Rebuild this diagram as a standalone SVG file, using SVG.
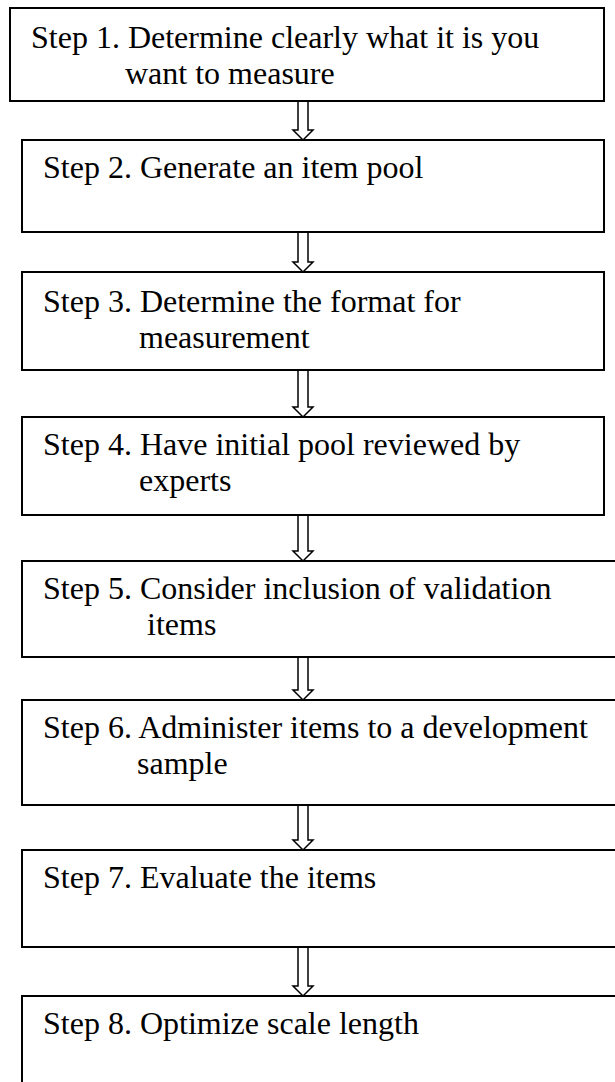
<svg xmlns="http://www.w3.org/2000/svg" width="615" height="1082" viewBox="0 0 615 1082">
<style>
.box{fill:#fff;stroke:#000;stroke-width:2}
.t{font-family:"Liberation Serif","Times New Roman",serif;font-size:32px;fill:#000}
.arr{fill:#fff;stroke:#000;stroke-width:1.5;stroke-linejoin:miter}
</style>
<rect width="615" height="1082" fill="#fff"/>
<g id="connectors">
<polygon class="arr" points="298,101 308,101 308,130 313,130 303,140 293,130 298,130"/>
<polygon class="arr" points="298,232 308,232 308,262 313,262 303,272 293,262 298,262"/>
<polygon class="arr" points="298,370 308,370 308,407 313,407 303,417 293,407 298,407"/>
<polygon class="arr" points="298,515 308,515 308,551 313,551 303,561 293,551 298,551"/>
<polygon class="arr" points="298,657 308,657 308,690 313,690 303,700 293,690 298,690"/>
<polygon class="arr" points="298,805 308,805 308,840 313,840 303,850 293,840 298,840"/>
<polygon class="arr" points="298,947 308,947 308,986 313,986 303,996 293,986 298,986"/>
</g>
<g id="step1">
<rect class="box" x="10" y="8" width="594" height="93"/>
<text class="t" x="31" y="48">Step 1. Determine clearly what it is you</text>
<text class="t" x="125" y="84">want to measure</text>
</g>
<g id="step2">
<rect class="box" x="22" y="140" width="582" height="92"/>
<text class="t" x="43" y="178">Step 2. Generate an item pool</text>
</g>
<g id="step3">
<rect class="box" x="22" y="272" width="582" height="98"/>
<text class="t" x="43" y="312">Step 3. Determine the format for</text>
<text class="t" x="139" y="348">measurement</text>
</g>
<g id="step4">
<rect class="box" x="22" y="417" width="582" height="98"/>
<text class="t" x="43" y="455">Step 4. Have initial pool reviewed by</text>
<text class="t" x="139" y="491">experts</text>
</g>
<g id="step5">
<rect class="box" x="22" y="561" width="600" height="96"/>
<text class="t" x="43" y="599">Step 5. Consider inclusion of validation</text>
<text class="t" x="147" y="635">items</text>
</g>
<g id="step6">
<rect class="box" x="22" y="700" width="600" height="105"/>
<text class="t" x="43" y="738">Step 6. Administer items to a development</text>
<text class="t" x="137" y="774">sample</text>
</g>
<g id="step7">
<rect class="box" x="22" y="850" width="600" height="97"/>
<text class="t" x="43" y="888">Step 7. Evaluate the items</text>
</g>
<g id="step8">
<rect class="box" x="22" y="996" width="600" height="100"/>
<text class="t" x="43" y="1034">Step 8. Optimize scale length</text>
</g>
</svg>
